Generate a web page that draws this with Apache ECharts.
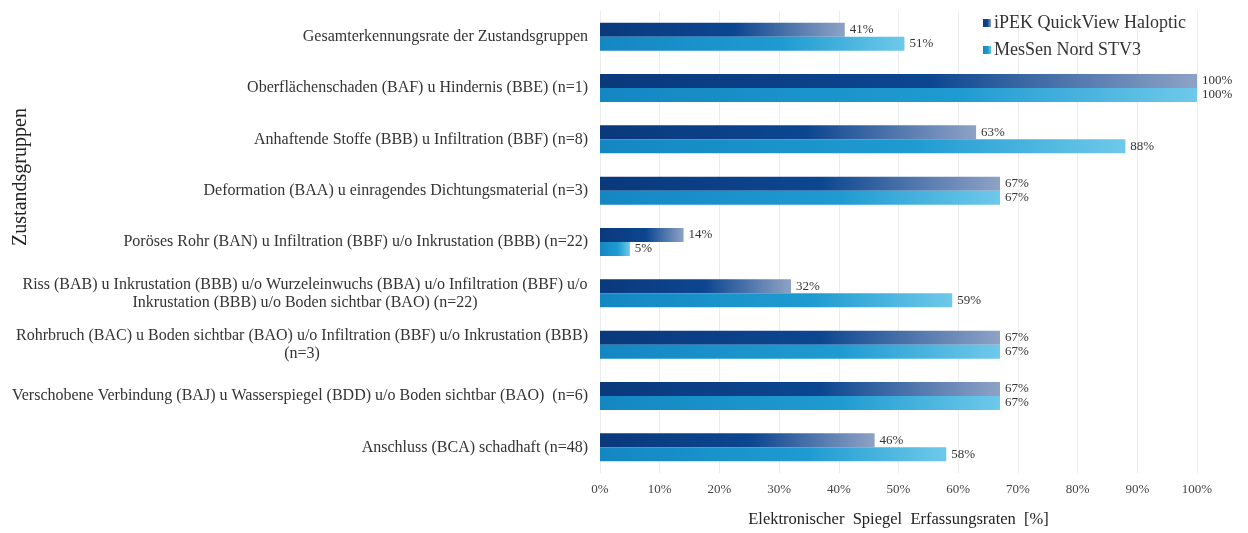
<!DOCTYPE html>
<html>
<head>
<meta charset="utf-8">
<script src="https://cdn.jsdelivr.net/npm/echarts@6/dist/echarts.min.js"></script>
<style>
  html, body { margin: 0; padding: 0; background: #fff; }
  #chart { width: 1248px; height: 533px; }
</style>
</head>
<body>
<div id="chart"></div>
<script>
// Zustandsgruppen (top to bottom)
const categories = [
  'Gesamterkennungsrate der Zustandsgruppen',
  'Oberflächenschaden (BAF) u Hindernis (BBE) (n=1)',
  'Anhaftende Stoffe (BBB) u Infiltration (BBF) (n=8)',
  'Deformation (BAA) u einragendes Dichtungsmaterial (n=3)',
  'Poröses Rohr (BAN) u Infiltration (BBF) u/o Inkrustation (BBB) (n=22)',
  'Riss (BAB) u Inkrustation (BBB) u/o Wurzeleinwuchs (BBA) u/o Infiltration (BBF) u/o\nInkrustation (BBB) u/o Boden sichtbar (BAO) (n=22)',
  'Rohrbruch (BAC) u Boden sichtbar (BAO) u/o Infiltration (BBF) u/o Inkrustation (BBB)\n(n=3)',
  'Verschobene Verbindung (BAJ) u Wasserspiegel (BDD) u/o Boden sichtbar (BAO)  (n=6)',
  'Anschluss (BCA) schadhaft (n=48)'
];
const seriesNames = ['iPEK QuickView Haloptic', 'MesSen Nord STV3'];
const ipekValues   = [41, 100, 63, 67, 14, 32, 67, 67, 46];
const messenValues = [51, 100, 88, 67, 5, 59, 67, 67, 58];
const xTicks = [0, 10, 20, 30, 40, 50, 60, 70, 80, 90, 100];

const FONT = '"Liberation Serif", "DejaVu Serif", serif';
const LABEL_SIZE = 16;
const LABEL_COLOR = '#333';

// Multi-line category labels are centred line by line inside a block of fixed width
const measureCtx = document.createElement('canvas').getContext('2d');
measureCtx.font = LABEL_SIZE + 'px ' + FONT;
function blockWidth(value) {
  const lines = value.split('\n');
  return Math.ceil(Math.max.apply(null, lines.map(l => measureCtx.measureText(l).width)));
}
function catLabel(value) {
  if (value.indexOf('\n') < 0) return value;
  const w = blockWidth(value);
  return value.split('\n').map(l => '{c' + w + '|' + l + '}').join('\n');
}
const rich = {};
categories.forEach(c => {
  if (c.indexOf('\n') >= 0) {
    const w = blockWidth(c);
    rich['c' + w] = { width: w, align: 'center', fontFamily: FONT, fontSize: LABEL_SIZE, color: LABEL_COLOR, lineHeight: 18 };
  }
});

const darkFill = new echarts.graphic.LinearGradient(0, 0, 1, 0, [
  { offset: 0, color: '#0a397c' },
  { offset: 0.55, color: '#0c4690' },
  { offset: 1, color: '#8ea2c6' }
]);
const lightFill = new echarts.graphic.LinearGradient(0, 0, 1, 0, [
  { offset: 0, color: '#1487c2' },
  { offset: 0.6, color: '#1f9bd1' },
  { offset: 1, color: '#6ec9ea' }
]);

const barLabel = {
  show: true,
  position: 'right',
  distance: 5,
  formatter: p => p.value + '%',
  fontFamily: FONT,
  fontSize: 13,
  color: '#333'
};

const chart = echarts.init(document.getElementById('chart'));
chart.setOption({
  animation: false,
  backgroundColor: '#ffffff',
  textStyle: { fontFamily: FONT },
  legend: {
    orient: 'vertical',
    left: 978,
    top: 9,
    itemWidth: 8,
    itemHeight: 8,
    itemGap: 9,
    icon: 'rect',
    textStyle: { fontFamily: FONT, fontSize: 18, color: '#333', padding: [0, 0, 0, -2] },
    data: seriesNames
  },
  grid: { left: 600, right: 51, top: 11, bottom: 57, containLabel: false },
  xAxis: {
    type: 'value',
    min: xTicks[0],
    max: xTicks[xTicks.length - 1],
    interval: 10,
    name: 'Elektronischer  Spiegel  Erfassungsraten  [%]',
    nameLocation: 'middle',
    nameGap: 38,
    nameTextStyle: { fontFamily: FONT, fontSize: 16.5, color: '#222' },
    axisLine: { show: false },
    axisTick: { show: false },
    axisLabel: { formatter: v => v + '%', fontFamily: FONT, fontSize: 13, color: '#444', margin: 10 },
    splitLine: { show: true, lineStyle: { color: '#ededed', width: 1 } }
  },
  yAxis: {
    type: 'category',
    inverse: true,
    data: categories,
    axisLine: { show: false },
    axisTick: { show: false },
    axisLabel: {
      margin: 12,
      fontFamily: FONT,
      fontSize: LABEL_SIZE,
      color: LABEL_COLOR,
      lineHeight: 18,
      formatter: catLabel,
      rich: rich
    }
  },
  graphic: [{
    type: 'text',
    x: 21,
    y: 177,
    rotation: Math.PI / 2,
    style: {
      text: 'Zustandsgruppen',
      font: '20px ' + FONT,
      fill: '#222',
      align: 'center',
      verticalAlign: 'middle'
    }
  }],
  series: [
    {
      name: seriesNames[0],
      type: 'bar',
      data: ipekValues,
      barWidth: 14,
      barGap: '0%',
      itemStyle: { color: darkFill },
      label: barLabel
    },
    {
      name: seriesNames[1],
      type: 'bar',
      data: messenValues,
      barWidth: 14,
      barGap: '0%',
      itemStyle: { color: lightFill },
      label: barLabel
    }
  ]
});
</script>
</body>
</html>
